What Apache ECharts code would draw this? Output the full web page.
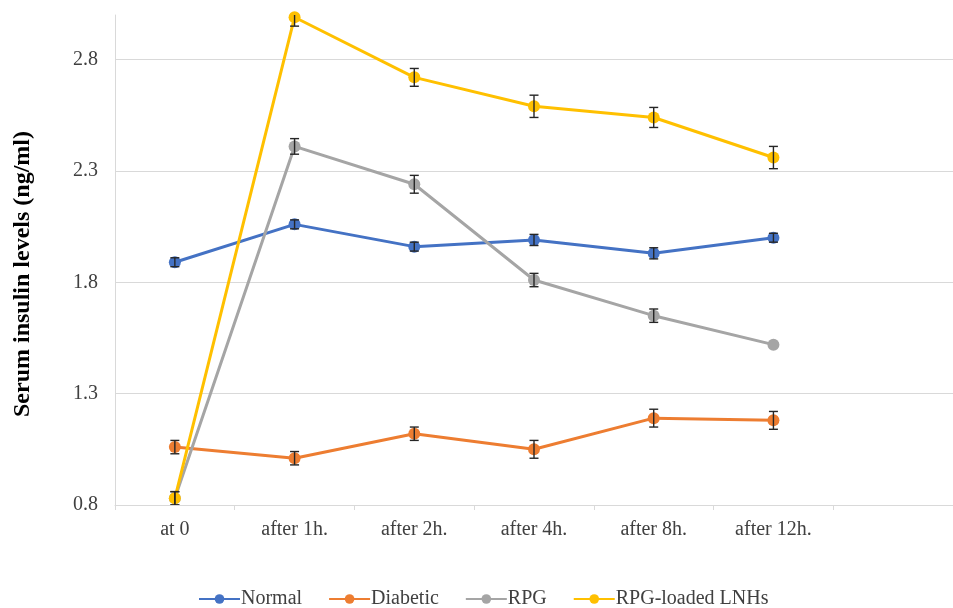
<!DOCTYPE html>
<html>
<head>
<meta charset="utf-8">
<script src="https://cdn.jsdelivr.net/npm/echarts@6/dist/echarts.min.js"></script>
<style>
html,body{margin:0;padding:0;background:#fff;}
#chart{width:953px;height:608px;}
</style>
</head>
<body>
<div id="chart"></div>
<script>
const categories = ['at 0', 'after 1h.', 'after 2h.', 'after 4h.', 'after 8h.', 'after 12h.', ''];
const seriesNames = ['Normal', 'Diabetic', 'RPG', 'RPG-loaded LNHs'];
const normal   = [1.89, 2.06, 1.96, 1.99, 1.93, 2.00];
const diabetic = [1.06, 1.01, 1.12, 1.05, 1.19, 1.18];
const rpg      = [0.83, 2.41, 2.24, 1.81, 1.65, 1.52];
const rpgLnh   = [0.83, 2.99, 2.72, 2.59, 2.54, 2.36];
const normalErr   = [0.02, 0.02, 0.02, 0.025, 0.025, 0.02];
const diabeticErr = [0.03, 0.03, 0.03, 0.04, 0.04, 0.04];
const rpgErr      = [0.03, 0.035, 0.04, 0.03, 0.03, 0.0];
const rpgLnhErr   = [0.03, 0.04, 0.04, 0.05, 0.045, 0.05];
const yTicks = [0.8, 1.3, 1.8, 2.3, 2.8];

const values = [normal, diabetic, rpg, rpgLnh];
const errors = [normalErr, diabeticErr, rpgErr, rpgLnhErr];
const colors = ['#4472C4', '#ED7D31', '#A5A5A5', '#FFC000'];
const font = '"Liberation Serif", "Times New Roman", serif';

const series = [];
values.forEach((vals, i) => {
  series.push({
    name: seriesNames[i],
    type: 'line',
    data: vals,
    symbol: 'circle',
    symbolSize: 12,
    lineStyle: { width: 3, color: colors[i] },
    itemStyle: { color: colors[i] },
    z: 2 + i,
    animation: false
  });
});
values.forEach((vals, i) => {
  series.push({
    name: seriesNames[i] + ' err',
    type: 'custom',
    clip: true,
    z: 10,
    silent: true,
    animation: false,
    data: vals.map((v, j) => [j, v - errors[i][j], v + errors[i][j]]),
    renderItem: function (params, api) {
      const lo = api.coord([api.value(0), api.value(1)]);
      const hi = api.coord([api.value(0), api.value(2)]);
      const x = lo[0];
      const hw = 4.5;
      if (Math.abs(lo[1] - hi[1]) < 1) return null;
      const st = { stroke: '#262626', lineWidth: 1.4 };
      return {
        type: 'group',
        children: [
          { type: 'line', shape: { x1: x, y1: lo[1], x2: x, y2: hi[1] }, style: st },
          { type: 'line', shape: { x1: x - hw, y1: lo[1], x2: x + hw, y2: lo[1] }, style: st },
          { type: 'line', shape: { x1: x - hw, y1: hi[1], x2: x + hw, y2: hi[1] }, style: st }
        ]
      };
    }
  });
});

const chart = echarts.init(document.getElementById('chart'), null, { renderer: 'canvas' });
chart.setOption({
  backgroundColor: '#ffffff',
  animation: false,
  color: colors,
  textStyle: { fontFamily: font },
  grid: { left: 115, top: 15, width: 851, bottom: 103, containLabel: false },
  legend: {
    data: seriesNames,
    top: 589,
    left: 198,
    padding: 0,
    itemWidth: 41,
    itemHeight: 12,
    itemGap: 26,
    textStyle: { fontFamily: font, fontSize: 20, color: '#404040', padding: [0, 0, 0, -4] }
  },
  xAxis: {
    type: 'category',
    data: categories,
    boundaryGap: true,
    axisLine: { show: true, lineStyle: { color: '#d9d9d9', width: 1 } },
    axisTick: { show: true, alignWithLabel: false, length: 5, lineStyle: { color: '#d9d9d9' } },
    axisLabel: { fontFamily: font, fontSize: 20, color: '#404040', margin: 15, interval: 0 },
    splitLine: { show: false }
  },
  yAxis: {
    type: 'value',
    min: 0.8,
    max: 3.0,
    interval: 0.5,
    name: 'Serum insulin levels (ng/ml)',
    nameLocation: 'middle',
    nameGap: 80,
    nameRotate: 90,
    nameTextStyle: { fontFamily: font, fontSize: 24, fontWeight: 'bold', color: '#000', padding: [0, 28, 0, 0] },
    axisLine: { show: true, lineStyle: { color: '#d9d9d9', width: 1 } },
    axisTick: { show: false },
    axisLabel: {
      fontFamily: font, fontSize: 20, color: '#404040', margin: 17,
      formatter: function (v) {
        const t = yTicks.find(k => Math.abs(k - v) < 1e-6);
        return t === undefined ? '' : t.toFixed(1);
      }
    },
    splitLine: { show: true, lineStyle: { color: ['#d9d9d9', '#d9d9d9', '#d9d9d9', '#d9d9d9', '#d9d9d9', 'rgba(0,0,0,0)'], width: 1 } }
  },
  series: series
});
</script>
</body>
</html>
